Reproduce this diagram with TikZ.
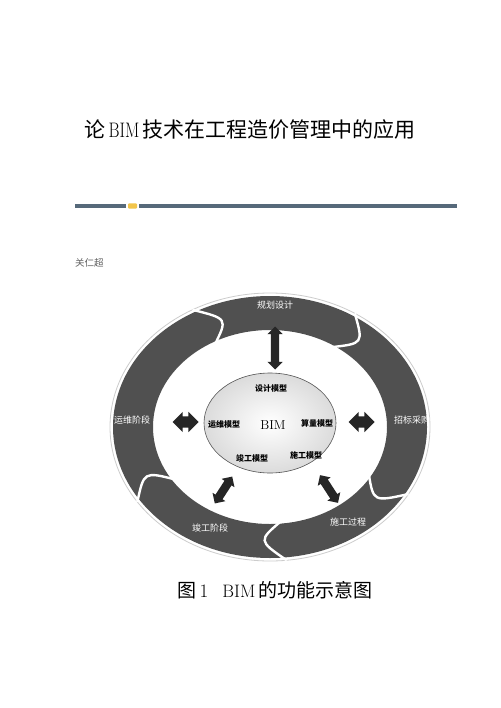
\documentclass[tikz,border=0pt]{standalone}
\usepackage{fontspec}
\newfontfamily\cjk{Noto Sans CJK SC}
\usetikzlibrary{calc,shapes.arrows}
\definecolor{ringgray}{HTML}{505050}
\definecolor{rulecol}{HTML}{56697A}
\definecolor{iconcol}{HTML}{F2C54B}
\newcommand{\ringgap}[1]{%
  \draw[gapline] ($(C)+({160*cos(#1)},{134*sin(#1)})$)
    .. controls ($(C)+({137*cos(#1-11)},{114*sin(#1-11)})$) ..
    ($(C)+({114*cos(#1)},{94*sin(#1)})$);}
\begin{document}
\begin{tikzpicture}[x=1pt,y=1pt,
  ringlabel/.style={text=white, font=\cjk\fontsize{9}{10}\selectfont, inner sep=0},
  modlabel/.style={text=black, font=\cjk\bfseries\fontsize{8}{9}\selectfont, inner sep=0},
  dblarrow/.style={double arrow, fill=black!85, draw=none, inner xsep=0pt, inner ysep=4pt,
    minimum width=0pt, double arrow head extend=3.5pt, double arrow head indent=0pt},
  gapline/.style={white, line width=2.4pt},
  rulestyle/.style={rulecol, line width=4pt},
]
\useasboundingbox (0,0) rectangle (500,-708);
\fill[white] (0,0) rectangle (500,-708);

% title
\node (title) at (250,-130) {\cjk\fontsize{21}{24}\selectfont 论\,{\rmfamily\scalebox{0.8}[1]{BIM}}\,技术在工程造价管理中的应用};

% rule
\coordinate (r1) at (75,-206);
\coordinate (r2) at (126,-206);
\coordinate (r3) at (139,-206);
\coordinate (r4) at (457,-206);
\draw[rulestyle] (r1) -- (r2);
\draw[rulestyle] (r3) -- (r4);
\fill[iconcol, rounded corners=1pt] (128,-203.3) rectangle (137,-208.7);

% author
\node[anchor=west, text=gray!75!black, font=\cjk\fontsize{9.5}{10}\selectfont, inner sep=0] (author) at (75,-263) {关仁超};

% ring
\coordinate (C) at (270,-427);
\draw[gray!40, line width=0.8pt] (C) ellipse [x radius=160, y radius=134];
\fill[ringgray, even odd rule] (C) ellipse [x radius=157, y radius=131] (C) ellipse [x radius=117, y radius=97];
\ringgap{119}
\ringgap{58}
\ringgap{-30}
\ringgap{-84}
\ringgap{214}

\node[ringlabel] (s1) at (275,-305) {规划设计};
\node[ringlabel] (s2) at (412,-420) {招标采购};
\node[ringlabel] (s3) at (348,-522) {施工过程};
\node[ringlabel] (s4) at (210,-528) {竣工阶段};
\node[ringlabel] (s5) at (132,-420) {运维阶段};

% inner ellipse
\path[draw=gray!65!black, line width=0.6pt, inner color=white, outer color=gray!28] (270,-423) ellipse [x radius=66, y radius=50];
\node[modlabel] (m1) at (271,-388) {设计模型};
\node[modlabel] (m2) at (224,-424) {运维模型};
\node[text=black, font=\fontsize{13}{14}\selectfont, inner sep=0] (bim) at (273,-425) {BIM};
\node[modlabel] (m3) at (317,-423) {算量模型};
\node[modlabel] (m4) at (252,-458) {竣工模型};
\node[modlabel] (m5) at (306,-455) {施工模型};

% double arrows
\node[dblarrow, minimum height=43pt, rotate=90] (aTop) at (275,-348) {};
\node[dblarrow, minimum height=26pt, inner ysep=5.5pt, double arrow head extend=4.5pt] (aLeft) at (185.5,-422) {};
\node[dblarrow, minimum height=26pt, inner ysep=5.5pt, double arrow head extend=4.5pt] (aRight) at (361.5,-422) {};
\node[dblarrow, minimum height=32pt, rotate=57] (aLL) at (223.5,-490) {};
\node[dblarrow, minimum height=33pt, rotate=-57] (aLR) at (329,-489) {};

% caption
\node (cap) at (275,-590) {\cjk\fontsize{19}{22}\selectfont 图\,{\rmfamily 1}\hspace{14pt}{\rmfamily\fontsize{18}{20}\selectfont BIM}\,的功能示意图};
\end{tikzpicture}
\end{document}
